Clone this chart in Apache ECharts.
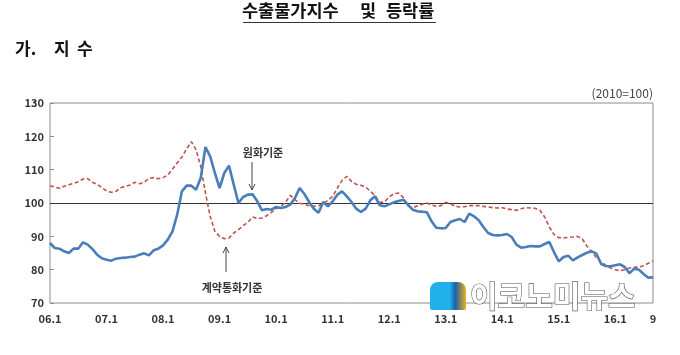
<!DOCTYPE html>
<html>
<head>
<meta charset="utf-8">
<script src="https://cdn.jsdelivr.net/npm/echarts@6/dist/echarts.min.js"></script>
<style>
html,body{margin:0;padding:0;background:#fff;}
#c{width:680px;height:355px;}
</style>
</head>
<body>
<div id="c"></div>
<script>
// months 2006.01 .. 2016.09
var years = ['06','07','08','09','10','11','12','13','14','15','16'];
var months = [];
years.forEach(function(y){ for (var m=1;m<=12;m++){ if (y==='16' && m>9) break; months.push(y+'.'+m); } });

// x tick labels shown (category -> label)
var tickLabels = {'06.1':'06.1','07.1':'07.1','08.1':'08.1','09.1':'09.1','10.1':'10.1','11.1':'11.1','12.1':'12.1','13.1':'13.1','14.1':'14.1','15.1':'15.1','16.1':'16.1','16.9':'9'};
var yTicks = [70,80,90,100,110,120,130];

// 원화기준 (won basis)
var wonBasis = [
 88.0,86.5,86.3,85.5,85.0,86.3,86.3,88.2,87.5,86.2,84.5,83.4,
 83.0,82.7,83.3,83.5,83.6,83.8,83.9,84.5,84.9,84.3,85.8,86.3,
 87.3,89.0,91.5,96.5,103.5,105.2,105.2,104.0,107.5,116.8,114.0,109.0,
 104.5,109.0,111.2,105.5,100.0,101.8,102.5,102.6,100.5,97.8,98.2,98.0,
 98.8,98.5,98.8,99.5,101.5,104.5,102.7,100.3,98.3,97.1,100.3,99.0,
 100.5,102.5,103.5,102.0,100.3,98.3,97.3,98.3,100.8,102.0,99.3,99.0,
 99.6,100.2,100.6,101.0,99.4,98.0,97.5,97.4,97.2,94.5,92.6,92.4,
 92.5,94.3,94.8,95.2,94.3,96.8,96.0,94.8,92.8,91.0,90.4,90.3,
 90.4,90.7,89.8,87.5,86.6,86.8,87.1,87.0,87.0,87.7,88.3,85.2,
 82.5,83.8,84.2,82.8,83.7,84.4,85.1,85.5,84.8,81.7,81.1,81.0,
 81.3,81.6,80.8,78.9,80.3,80.0,78.7,77.6,77.7
];
// 계약통화기준 (contract currency basis)
var contractBasis = [
 105.2,104.8,104.4,105.0,105.5,105.9,106.4,107.2,107.3,106.2,105.6,104.6,
 103.6,103.2,103.5,104.6,105.0,105.4,106.2,105.8,106.2,107.4,107.6,107.3,
 107.6,108.4,110.2,112.0,113.8,116.2,118.4,116.0,111.0,103.0,96.0,91.5,
 90.0,89.3,89.5,91.0,92.0,93.2,94.2,95.8,95.3,95.5,96.2,97.2,
 98.3,99.0,100.2,102.3,101.0,99.9,99.6,99.2,99.0,99.2,99.8,100.8,
 102.0,104.5,106.8,108.0,106.5,105.6,105.3,104.8,103.5,102.2,100.2,100.3,
 101.8,102.8,103.0,101.6,99.3,98.5,99.2,99.6,100.0,99.4,99.0,99.2,
 100.2,99.8,99.0,98.8,98.9,99.2,99.2,99.2,99.0,98.8,98.6,98.5,
 98.6,98.2,98.0,97.8,98.3,98.6,98.5,98.4,97.8,95.8,92.8,90.5,
 89.6,89.5,89.7,89.8,90.0,89.2,87.0,85.3,83.6,82.3,81.3,80.5,
 80.0,79.7,80.0,80.5,80.7,80.8,81.2,81.9,82.6
];

var chart = echarts.init(document.getElementById('c'), null, {renderer:'canvas'});
var KR = "'Noto Sans CJK KR', 'Noto Sans', sans-serif";
var option = {
  animation:false,
  backgroundColor:'#fff',
  grid:{left:50,right:27,top:103,bottom:52,show:true,borderColor:'#8c8c8c',borderWidth:1,backgroundColor:'transparent'},
  xAxis:{
    type:'category', data:months, boundaryGap:false,
    axisLine:{show:false}, axisTick:{show:false}, splitLine:{show:false},
    axisLabel:{
      interval:function(i,v){ return tickLabels.hasOwnProperty(v); },
      formatter:function(v){ return tickLabels[v] || ''; },
      color:'#333', fontFamily:KR, fontWeight:'bold', fontSize:11, margin:10
    }
  },
  yAxis:{
    type:'value', min:yTicks[0], max:yTicks[yTicks.length-1], interval:10,
    axisLine:{show:false},
    axisTick:{show:true, inside:true, length:4, lineStyle:{color:'#8c8c8c'}},
    splitLine:{show:false},
    axisLabel:{color:'#333', fontFamily:KR, fontWeight:'bold', fontSize:11, margin:6}
  },
  series:[
    {
      name:'계약통화기준', type:'line', data:contractBasis, symbol:'none', smooth:false,
      lineStyle:{color:'#c0504d', width:1.6, type:[4,2.5]},
      z:2
    },
    {
      name:'원화기준', type:'line', data:wonBasis, symbol:'none', smooth:false,
      lineStyle:{color:'#4a7ebb', width:2.6},
      z:3,
      markLine:{
        silent:true, symbol:['none','none'], label:{show:false},
        lineStyle:{color:'#333', width:1, type:'solid'},
        data:[{yAxis:100}], z:1
      }
    }
  ],
  graphic:[
    {type:'text', x:242, y:2, style:{text:'수출물가지수', font:"bold 17.5px 'Noto Sans CJK KR'", fill:'#111'}},
    {type:'text', x:360, y:2, style:{text:'및', font:"bold 17.5px 'Noto Sans CJK KR'", fill:'#111'}},
    {type:'text', x:386, y:2, style:{text:'등락률', font:"bold 17.5px 'Noto Sans CJK KR'", fill:'#111'}},
    {type:'line', shape:{x1:243,y1:22.5,x2:436,y2:22.5}, style:{stroke:'#333', lineWidth:1.2}},
    {type:'text', x:15, y:40, style:{text:'가.', font:"bold 17px 'Noto Sans CJK KR'", fill:'#111'}},
    {type:'text', x:54, y:40, style:{text:'지', font:"bold 17px 'Noto Sans CJK KR'", fill:'#111'}},
    {type:'text', x:77, y:40, style:{text:'수', font:"bold 17px 'Noto Sans CJK KR'", fill:'#111'}},
    {type:'text', right:27, top:87, style:{text:'(2010=100)', font:"12px 'Noto Sans CJK KR'", fill:'#444'}},
    {type:'text', x:263, y:153, style:{text:'원화기준', font:"bold 11px 'Noto Sans CJK KR'", fill:'#333', textAlign:'center', textVerticalAlign:'middle'}, z:10},
    {type:'line', shape:{x1:252,y1:162,x2:252,y2:190}, style:{stroke:'#444', lineWidth:1}, z:10},
    {type:'polyline', shape:{points:[[249,184],[252,190],[255,184]]}, style:{stroke:'#444', lineWidth:1, fill:null}, z:10},
    {type:'text', x:232, y:288, style:{text:'계약통화기준', font:"bold 11px 'Noto Sans CJK KR'", fill:'#333', textAlign:'center', textVerticalAlign:'middle'}, z:10},
    {type:'line', shape:{x1:226,y1:272,x2:226,y2:247}, style:{stroke:'#444', lineWidth:1}, z:10},
    {type:'polyline', shape:{points:[[223,253],[226,247],[229,253]]}, style:{stroke:'#444', lineWidth:1, fill:null}, z:10},
    {type:'rect', shape:{x:430,y:282,width:36,height:28,r:[8,8,2,2]}, style:{fill:new echarts.graphic.LinearGradient(0,0,1,0,[{offset:0,color:'#22b0ea'},{offset:0.55,color:'#22b0ea'},{offset:0.7,color:'#1b5fa8'},{offset:1,color:'#e9b21f'}])}, z:20},
    {type:'text', x:470, y:296, style:{text:'이코노미뉴스', font:"bold 30px 'Noto Sans CJK KR'", fill:'#ffffff', stroke:'#555', lineWidth:1.2, textVerticalAlign:'middle'}, z:20}
  ]
};
chart.setOption(option);
</script>
</body>
</html>
